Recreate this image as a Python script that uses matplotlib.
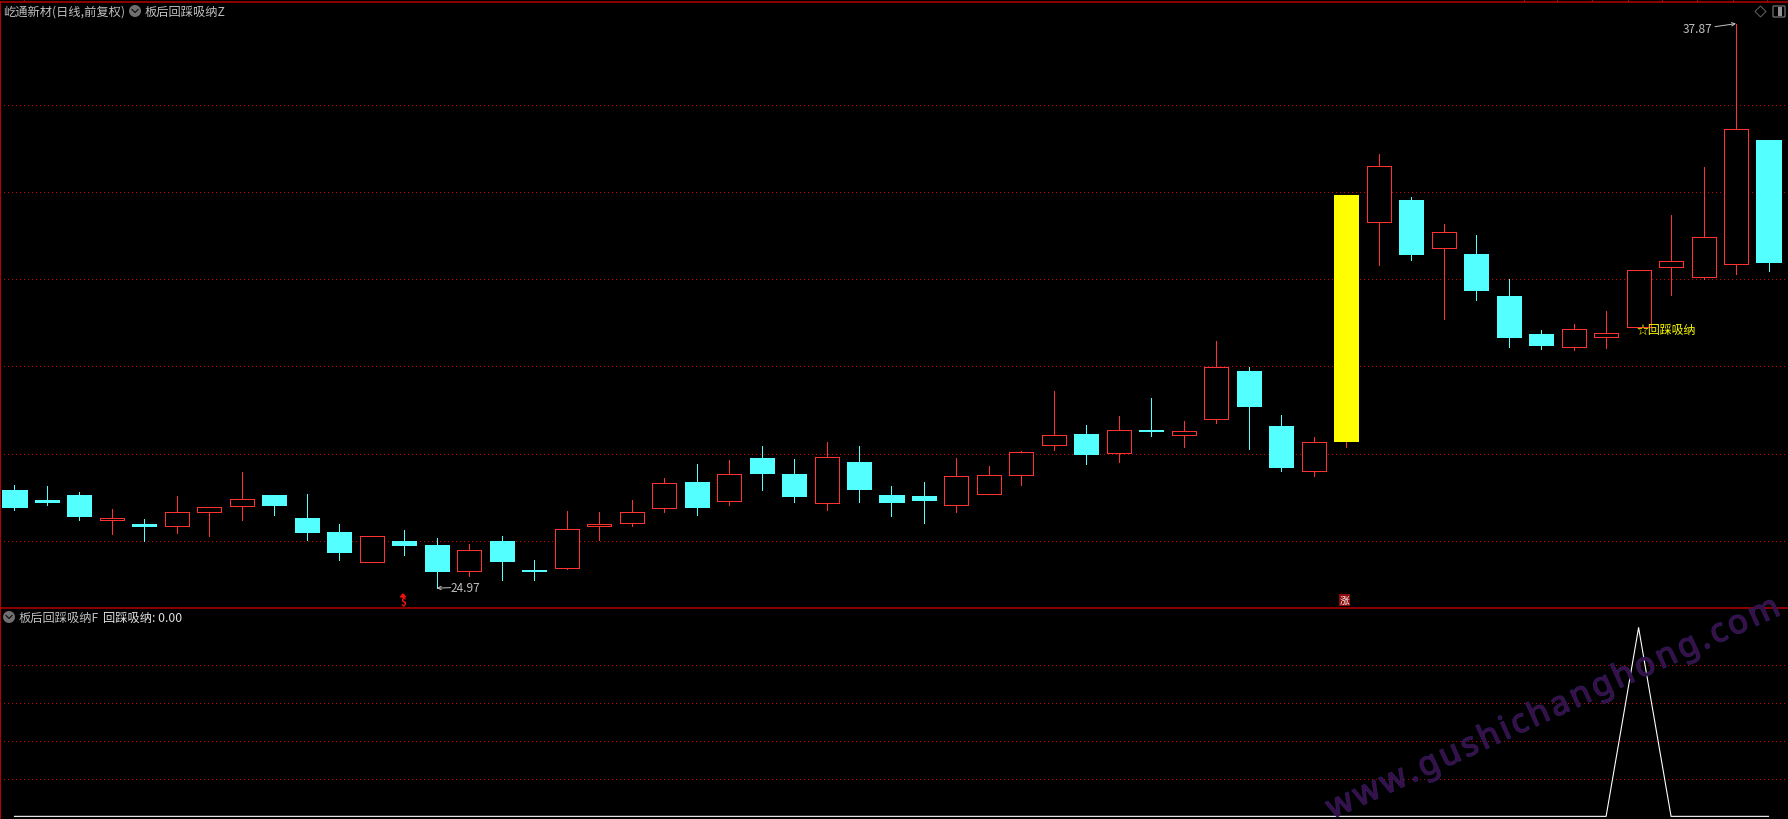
## Candles with the volume-signal panel below

import matplotlib
matplotlib.use("Agg")
import matplotlib.pyplot as plt
import matplotlib.patheffects as pe
from matplotlib.patches import Circle, FancyBboxPatch, Polygon, Rectangle

plt.rcParams['font.family'] = ['Noto Sans CJK SC', 'DejaVu Sans']

# prices
opens = [27.22, 26.99, 27.10, 26.53, 26.44, 26.38, 26.70, 26.84, 27.10, 26.58, 26.26,
         25.56, 26.05, 25.96, 25.37, 26.05, 25.39, 25.44, 26.40, 26.45, 26.81,
         27.40, 26.95, 27.95, 27.58, 26.91, 27.86, 27.10, 27.08, 26.88, 27.11,
         27.55, 28.25, 28.50, 28.05, 28.59, 28.46, 28.83, 29.94, 28.68, 27.64,
         28.34, 33.33, 33.85, 32.74, 32.61, 31.65, 30.78, 30.47, 30.72, 30.93,
         32.32, 32.07, 32.37, 35.20]
closes = [26.83, 26.94, 26.62, 26.58, 26.39, 26.71, 26.83, 27.00, 26.88, 26.26, 25.80,
          26.16, 25.96, 25.37, 25.84, 25.59, 25.37, 26.32, 26.44, 26.71, 27.37,
          26.83, 27.58, 27.61, 27.08, 27.96, 27.24, 26.94, 26.99, 27.53, 27.55,
          28.08, 28.47, 28.04, 28.58, 28.57, 28.56, 30.02, 29.14, 27.74, 28.31,
          33.96, 34.62, 32.61, 33.11, 31.79, 30.72, 30.53, 30.89, 30.80, 32.24,
          32.45, 32.99, 35.46, 32.43]
highs = [27.33, 27.31, 27.17, 26.78, 26.56, 27.08, 26.83, 27.63, 27.10, 27.13, 26.44,
         26.17, 26.30, 26.12, 25.98, 26.17, 25.62, 26.74, 26.72, 26.99, 27.49,
         27.81, 27.90, 28.22, 27.93, 28.32, 28.22, 27.31, 27.40, 27.95, 27.77,
         28.11, 29.48, 28.70, 28.91, 29.32, 28.80, 30.62, 30.03, 28.93, 28.43,
         33.96, 34.90, 33.91, 33.30, 33.05, 32.03, 30.88, 31.01, 31.31, 32.24,
         33.50, 34.60, 37.87, 35.20]
lows = [26.75, 26.88, 26.53, 26.21, 26.05, 26.24, 26.17, 26.53, 26.65, 26.08, 25.62,
        25.56, 25.73, 24.97, 25.24, 25.16, 25.15, 25.41, 26.08, 26.38, 26.72,
        26.65, 26.88, 27.22, 26.94, 26.76, 26.94, 26.62, 26.46, 26.72, 27.11,
        27.33, 28.13, 27.81, 27.86, 28.45, 28.20, 28.75, 28.16, 27.65, 27.54,
        28.20, 32.36, 32.46, 31.13, 31.56, 30.49, 30.44, 30.42, 30.46, 30.93,
        31.68, 32.04, 32.16, 32.22]
limit_up_days = [41]
signal_values = [0.0] * 55
signal_values[50] = 1.0

price_grid = [26.05, 28.04, 30.05, 32.03, 34.02, 36.01]
signal_grid = [0.2, 0.4, 0.6, 0.8]
top_marks = [24, 1523.5, 1557, 1592, 1627.5, 1662, 1697, 1732.5, 1767]

title_text = "屹通新材(日线,前复权)"
main_formula = "板后回踩吸纳Z"
sub_formula = "板后回踩吸纳F"
sub_value = "回踩吸纳: 0.00"
buy_label = "☆回踩吸纳"
low_label = "24.97"
high_label = "37.87"
watermark = "www.gushichanghong.com"

BG = "#000000"
RED = "#ff3232"
CYAN = "#54ffff"
YELLOW = "#ffff00"
FRAME = "#b80000"
GRID = "#cc0000"
TEXT = "#c0c0c0"
px = 0.72  # one pixel in points at dpi 100

fig = plt.figure(figsize=(17.88, 8.2), dpi=100, facecolor=BG)
ax = fig.add_axes([0, 211 / 820, 1, 606.5 / 820], facecolor=BG)
ax2 = fig.add_axes([0, 0, 1, 211 / 820], facecolor=BG)
# whole figure in pixels, for the window furniture
over = fig.add_axes([0, 0, 1, 1], facecolor="none")
over.set_xlim(0, 1788)
over.set_ylim(820, 0)
over.axis("off")

for a in (ax, ax2):
    a.set_xlim(-0.446, 54.6)
    a.set_xticks([])
    a.set_yticks([])
    a.spines["right"].set_visible(False)
    a.spines["bottom"].set_visible(False)
    a.spines["left"].set_color(FRAME)
    a.spines["top"].set_color(FRAME)
    a.spines["left"].set_linewidth(2 * px)
    a.spines["top"].set_linewidth(1.5 * px)

ax.set_ylim(24.516, 38.376)
ax2.set_ylim(-0.014, 1.104)

for v in price_grid:
    ax.axhline(v, color=GRID, lw=px, ls=(0, (1, 3.67)), zorder=1, antialiased=False)
for v in signal_grid:
    ax2.axhline(v, color=GRID, lw=px, ls=(0, (1, 3.67)), zorder=1, antialiased=False)

# candles
for i in range(len(opens)):
    up = closes[i] >= opens[i]
    col = RED if up else CYAN
    if i in limit_up_days:
        col = YELLOW
    wick = RED if up else CYAN
    ax.vlines(i, lows[i], highs[i], color=wick, lw=px, zorder=2, antialiased=False)
    face = col if (not up or i in limit_up_days) else BG
    ax.bar(i, closes[i] - opens[i], bottom=opens[i], width=0.74, facecolor=face,
           edgecolor=col, linewidth=px, zorder=3, antialiased=False)

ax2.plot(range(len(signal_values)), signal_values, color="#ffffff", lw=1.1 * px, zorder=3)

# labels that follow the candles
ax.annotate(low_label, xy=(13, lows[13]), xytext=(14, 0.5), textcoords="offset pixels",
            color=TEXT, fontsize=8.6, va="center", ha="left", zorder=5)
ax.annotate("", xy=(13, lows[13]), xytext=(14, 0.5), textcoords="offset pixels",
            arrowprops=dict(arrowstyle="->", color=TEXT, lw=px, shrinkA=0, shrinkB=0,
                            mutation_scale=6))
ax.annotate(high_label, xy=(53, highs[53]), xytext=(-24, -5), textcoords="offset pixels",
            color=TEXT, fontsize=8.6, va="center", ha="right", zorder=5)
ax.annotate("", xy=(53, highs[53]), xytext=(-21, -3), textcoords="offset pixels",
            arrowprops=dict(arrowstyle="->", color=TEXT, lw=px, shrinkA=0, shrinkB=0,
                            mutation_scale=6))
ax.annotate(buy_label, xy=(50, opens[50]), xytext=(-2, -2), textcoords="offset pixels",
            color=YELLOW, fontsize=8.6, va="center", ha="left", zorder=6)

# S and limit-up marks along the bottom of the top panel
over.text(403, 603.5, "$", color="#ff1010", fontsize=7, fontweight="bold", ha="center", va="center")
over.add_patch(Polygon([[400.5, 598], [405.5, 598], [403, 595]], closed=True, color="#ff1010"))
over.add_patch(Rectangle((1339, 595), 11, 12, color="#8c0a0a", lw=0))
over.text(1344.5, 601, "涨", color="#ffffff", fontsize=7, ha="center", va="center")

# header texts
over.text(3, 12, title_text, color=TEXT, fontsize=8.8, ha="left", va="center")
over.add_patch(Circle((135, 12), 6, color="#707070", lw=0))
over.plot([132, 135, 138], [10.5, 13.5, 10.5], color="#101010", lw=1.2 * px)
over.text(145, 12, main_formula, color=TEXT, fontsize=8.8, ha="left", va="center")
over.add_patch(Circle((9, 618), 6, color="#707070", lw=0))
over.plot([6, 9, 12], [616.5, 619.5, 616.5], color="#101010", lw=1.2 * px)
over.text(19, 618, sub_formula, color=TEXT, fontsize=8.8, ha="left", va="center")
over.text(103, 618, sub_value, color="#e0e0e0", fontsize=8.8, ha="left", va="center")

# little marks sitting on the top frame
over.vlines(top_marks, 0, 2, color=FRAME, lw=px, antialiased=False)

# top right buttons
over.add_patch(Polygon([[1755, 12.5], [1760.5, 7], [1766, 12.5], [1760.5, 18]], closed=True,
                       fill=False, edgecolor="#606060", lw=px))
over.add_patch(FancyBboxPatch((1774, 8), 10, 9, boxstyle="round,pad=1", fill=False,
                              edgecolor="#707070", lw=1.3 * px))
over.add_patch(Rectangle((1778, 8), 4, 9, color="#909090", lw=0))

# watermark
over.text(1553, 710, "\u200a".join(watermark), color="#3c0f48", alpha=0.9, fontsize=23.8,
          family=["Noto Sans", "DejaVu Sans"], rotation=24.5, rotation_mode="anchor",
          ha="center", va="center", zorder=10,
          path_effects=[pe.Stroke(linewidth=1.0, foreground="#26225f"), pe.Normal()])

fig.savefig("out.png", dpi=100, facecolor=BG)
